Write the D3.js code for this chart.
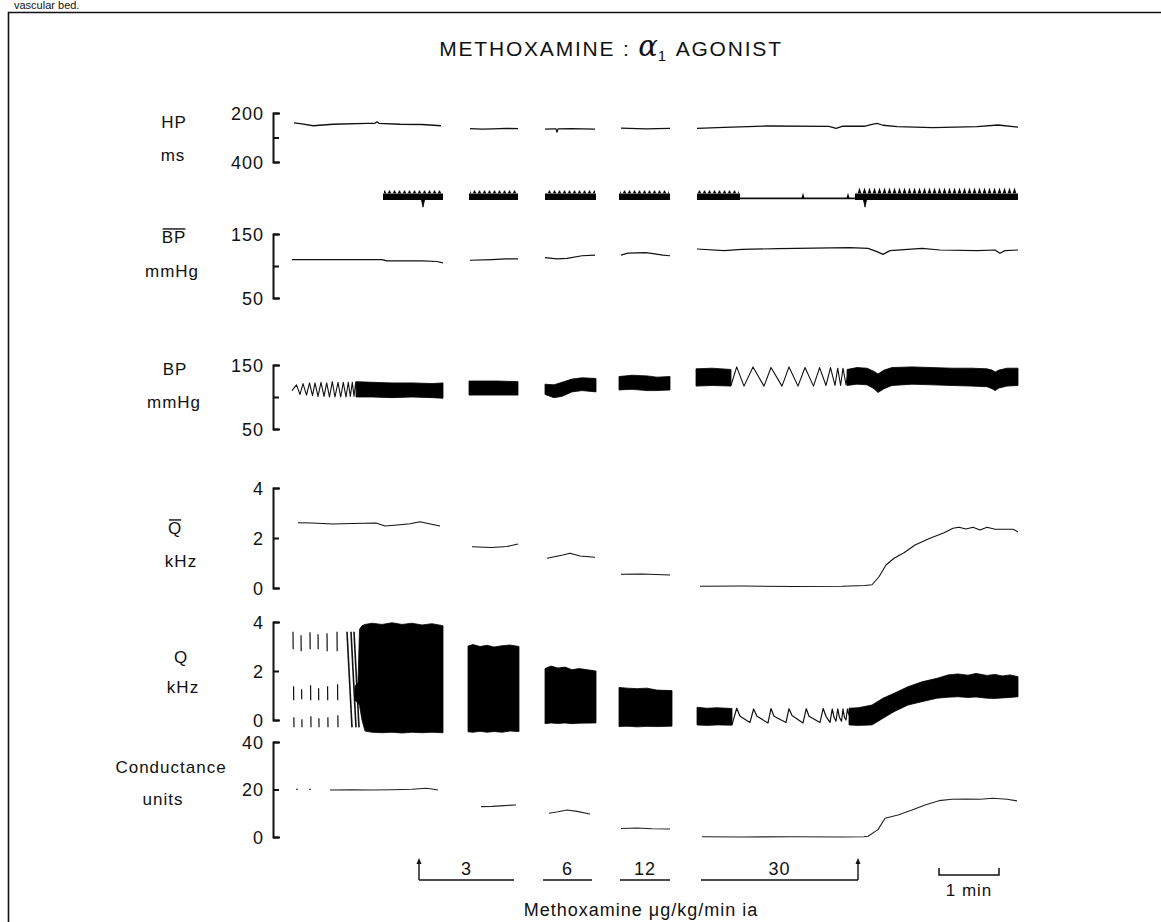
<!DOCTYPE html>
<html>
<head>
<meta charset="utf-8">
<script src="https://cdn.jsdelivr.net/npm/d3@7"></script>
<style>
  html, body { margin: 0; padding: 0; background: #fff; }
  svg { display: block; }
</style>
</head>
<body>
<svg id="chart" width="1161" height="922"></svg>
<script>
// ---------------------------------------------------------------
// Recording data. Time is in seconds from the start of the record;
// null entries mark the gaps between recorded segments.
// ---------------------------------------------------------------

// Heart period, ms
const hpTime = [2, 10, 21, 41, 75, 83, 85, 87, 108, 130, 149, null,
  178, 190, 201, 214, 226, null,
  253, 262, 264, 265, 266, 280, 290, 303, null,
  329, 345, 355, 365, 378, null,
  405, 432, 475, 537, 544, 551, 573, 580, 585, 591, 605, 641, 685, 706, 726];
const hpMs = [240, 244, 252, 246, 242, 242, 236, 242, 246, 247, 252, null,
  264, 266, 265, 263, 264, null,
  266, 265, 265, 278, 265, 264, 265, 266, null,
  262, 264, 265, 264, 263, null,
  263, 259, 253, 255, 263, 254, 254, 246, 242, 250, 256, 260, 256, 249, 258];

// Beat marker channel: dense bursts, a quiet stretch, single events
const beatBandStart = [91, 177, 253, 327, 405, 563];
const beatBandEnd   = [151, 226, 304, 378, 448, 726];
const beatToothBig  = [false, false, false, false, false, true];
const beatQuietStart = [448];
const beatQuietEnd   = [563];
const beatUpEvents   = [511, 556];
const beatDownEvents = [131, 573];

// Mean blood pressure, mmHg
const bpMeanTime = [0, 40, 90, 95, 130, 145, 151, null,
  178, 200, 213, 226, null,
  253, 265, 275, 290, 303, null,
  329, 336, 354, 371, 378, null,
  405, 432, 450, 486, 558, 576, 585, 591, 598, 630, 648, 685, 703, 708, 713, 726];
const bpMeanValue = [110, 110, 110, 108, 108, 107, 105, null,
  109, 110, 111, 111, null,
  113, 111, 112, 116, 117, null,
  117, 120, 121, 117, 116, null,
  126.6, 124, 126, 127, 128.6, 127.6, 122.4, 118.2, 124, 127.6, 125, 124, 125, 119.8, 124, 125];

// Pulsatile blood pressure at fast chart speed (single waves), mmHg
const bpWaveTime = [0, 4.5, 8, 11, 14.5, 17.5, 20.5, 23, 26, 29, 32, 34.7, 37.5, 40.3, 43, 46,
  48.7, 51.3, 54, 56.3, 58.3, 60.3, 62, 63.7, 65, null,
  439, 444.7, 452, 461, 472, 479, 490, 497, 506, 513, 521.5, 527.6, 534, 538.5, 543,
  545.7, 548.6, 551, 554, 556];
const bpWaveValue = [110, 119, 104, 121, 103, 122, 102, 122, 101, 123, 101, 122, 100, 124, 100, 123,
  100, 123, 100, 123, 101, 123, 101, 123, 101, null,
  118, 147, 117, 147, 117, 146, 117, 147, 117, 146, 117, 146, 118, 146, 118,
  145, 118, 145, 119, 140];

// Pulsatile blood pressure at slow chart speed: systolic / diastolic envelope, mmHg
const bpBandTime = [64, 80, 100, 120, 140, 151, null,
  177, 190, 205, 226, null,
  253, 262, 270, 280, 290, 304, null,
  327, 340, 355, 365, 378, null,
  404, 420, 439, null,
  555, 565, 575, 582, 586, 592, 600, 620, 640, 660, 680, 695, 700, 703, 707, 715, 726];
const bpSystolic = [124, 123, 122, 122, 121, 122, null,
  125, 125, 125, 124, null,
  120, 119, 123, 128, 130, 129, null,
  132, 134, 133, 131, 132, null,
  144, 145, 143, null,
  143, 146, 145, 140, 136, 142, 146, 147, 146, 145, 145, 144, 142, 139, 142, 145, 145];
const bpDiastolic = [100, 100, 99, 100, 99, 98, null,
  103, 103, 103, 103, null,
  104, 99, 101, 108, 110, 108, null,
  111, 112, 110, 110, 111, null,
  117, 118, 117, null,
  118, 120, 119, 113, 107, 113, 118, 120, 119, 118, 117, 116, 113, 110, 114, 117, 118];

// Mean flow, kHz
const qMeanTime = [6, 20, 41, 60, 84, 93, 105, 118, 128, 136, 148, null,
  180, 200, 215, 226, null,
  255, 271, 278, 288, 303, null,
  329, 350, 378, null,
  408, 450, 500, 550, 573, 580, 587, 594, 602, 612, 623, 638, 652, 661, 667, 674, 681, 688, 695, 703, 721, 726];
const qMeanValue = [2.61, 2.6, 2.56, 2.58, 2.6, 2.48, 2.52, 2.57, 2.65, 2.58, 2.48, null,
  1.65, 1.62, 1.66, 1.76, null,
  1.19, 1.32, 1.39, 1.28, 1.23, null,
  0.55, 0.56, 0.52, null,
  0.07, 0.08, 0.06, 0.07, 0.1, 0.13, 0.45, 0.92, 1.19, 1.41, 1.72, 1.99, 2.21, 2.39, 2.43, 2.36, 2.43, 2.32, 2.43, 2.35, 2.35, 2.25];

// Phasic flow: single beats at fast chart speed, kHz
const qBeatTime = [1, 9, 18, 26, 35, 45, 55, 59, 62];
const qBeatLow = -0.3;
const qBeatHigh = 3.6;
const qWaveTime = [440, 444.7, 448, 458, 461.6, 465, 476, 479, 482, 494, 497, 500, 511, 514.3, 517,
  528, 531.2, 534, 538, 540.3, 542, 544, 545.7, 547.5, 549.5, 551, 552.5, 554, 555.4, 557];
const qWaveValue = [-0.2, 0.48, 0.15, -0.1, 0.45, 0.15, -0.12, 0.47, 0.15, -0.1, 0.46, 0.18, -0.12, 0.46, 0.15,
  -0.1, 0.47, 0.15, -0.1, 0.45, 0.12, -0.05, 0.45, 0.1, -0.05, 0.45, 0.1, 0, 0.45, 0.2];

// Phasic flow envelope at slow chart speed, kHz
const qBandTime = [63, 66, 67.5, 70, 73, 80, 90, 100, 110, 120, 130, 140, 151, null,
  176, 181, 188, 195, 202, 210, 218, 227, null,
  253, 259, 266, 273, 280, 287, 304, null,
  327, 335, 345, 355, 365, 380, null,
  405, 415, 425, 440, null,
  557, 566, 580, 591, 602, 616, 630, 645, 656, 666, 676, 684, 695, 703, 710, 718, 726];
const qTop = [1.4, 1.5, 3.7, 3.85, 3.9, 3.95, 3.9, 3.97, 3.9, 3.95, 3.88, 3.93, 3.85, null,
  3.02, 3.08, 3.0, 3.05, 2.98, 3.03, 3.06, 3.0, null,
  2.1, 2.2, 2.12, 2.16, 2.05, 2.1, 2.0, null,
  1.33, 1.3, 1.28, 1.3, 1.22, 1.2, null,
  0.52, 0.48, 0.5, 0.47, null,
  0.48, 0.5, 0.61, 0.89, 1.09, 1.36, 1.56, 1.7, 1.84, 1.88, 1.83, 1.9, 1.82, 1.86, 1.8, 1.84, 1.77];
const qBottom = [0.8, 0.7, 0.6, 0.0, -0.45, -0.5, -0.52, -0.5, -0.53, -0.5, -0.52, -0.5, -0.52, null,
  -0.48, -0.5, -0.46, -0.5, -0.47, -0.5, -0.45, -0.47, null,
  -0.15, -0.12, -0.14, -0.12, -0.15, -0.13, -0.12, null,
  -0.27, -0.25, -0.28, -0.26, -0.27, -0.25, null,
  -0.2, -0.22, -0.2, -0.21, null,
  -0.2, -0.22, -0.2, 0.07, 0.34, 0.61, 0.75, 0.89, 0.93, 0.95, 0.92, 0.94, 0.89, 0.88, 0.9, 0.92, 0.95];

// Vascular conductance, units
const condTime = [4, 6, null, 17, 19, null, 38, 60, 80, 100, 120, 134, 140, 146, null,
  189, 200, 212, 224, null,
  257, 266, 275, 285, 298, null,
  329, 345, 360, 378, null,
  410, 450, 500, 550, 572, 576, 586, 593, 606, 620, 633, 647, 660, 674, 688, 701, 715, 725];
const condValue = [20.1, 20.1, null, 20.1, 20.1, null, 19.8, 19.9, 19.8, 19.9, 20.1, 20.5, 20.2, 19.8, null,
  12.8, 12.9, 13.2, 13.5, null,
  10.0, 10.6, 11.4, 10.8, 9.7, null,
  3.6, 3.8, 3.5, 3.4, null,
  0.1, 0.0, 0.1, 0.0, 0.1, 0.3, 3.1, 7.9, 9.3, 11.4, 13.5, 15.3, 15.9, 16.0, 15.9, 16.3, 15.9, 15.2];

// Infusion periods (μg/kg/min) and time calibration
const doseLabels = ["3", "6", "12", "30"];
const doseStart = [127, 251, 328, 409];
const doseEnd = [222, 300, 378, 566];
const infusionOn = 127;
const infusionOff = 566;
const minuteBar = [647, 707];

// Axis ticks
const hpTicks = [200, 300, 400], hpTickLabels = ["200", "", "400"];
const bpTicks = [150, 100, 50], bpTickLabels = ["150", "", "50"];
const qTicks = [4, 2, 0], qTickLabels = ["4", "2", "0"];
const condTicks = [40, 20, 0], condTickLabels = ["40", "20", "0"];

// ---------------------------------------------------------------
// Layout and scales
// ---------------------------------------------------------------
const FONT = '"Liberation Sans", Arial, Helvetica, sans-serif';
const INK = "#111";
const svg = d3.select("#chart");

const x = d3.scaleLinear().domain([0, 730]).range([292, 1022]);
const axisX = 273;

const yHP   = d3.scaleLinear().domain([200, 400]).range([113, 162]);
const yBeat = d3.scaleLinear().domain([0, 1]).range([200, 193.5]);
const yBPm  = d3.scaleLinear().domain([50, 150]).range([298, 234]);
const yBP   = d3.scaleLinear().domain([50, 150]).range([429, 365]);
const yQm   = d3.scaleLinear().domain([0, 4]).range([588, 488]);
const yQ    = d3.scaleLinear().domain([0, 4]).range([720, 622]);
const yC    = d3.scaleLinear().domain([0, 40]).range([837, 742]);

const zip = (t, v) => t.map((d, i) => ({ t: d, v: v[i] }));
const zip3 = (t, hi, lo) => t.map((d, i) => ({ t: d, hi: hi[i], lo: lo[i] }));
const lineGen = ys => d3.line()
  .defined(d => d.t != null && d.v != null)
  .x(d => x(d.t)).y(d => ys(d.v));
const areaGen = ys => d3.area()
  .defined(d => d.t != null && d.hi != null)
  .x(d => x(d.t)).y0(d => ys(d.lo)).y1(d => ys(d.hi));

function trace(ys, t, v, width, color) {
  svg.append("path")
    .attr("d", lineGen(ys)(zip(t, v)))
    .attr("fill", "none")
    .attr("stroke", color || INK)
    .attr("stroke-width", width || 1.1)
    .attr("stroke-linejoin", "round");
}
function band(ys, t, hi, lo) {
  svg.append("path")
    .attr("d", areaGen(ys)(zip3(t, hi, lo)))
    .attr("fill", "#000")
    .attr("stroke", "#000")
    .attr("stroke-width", 0.8);
}

// ---------------------------------------------------------------
// Frame and headings
// ---------------------------------------------------------------
svg.append("text").attr("x", 14).attr("y", 9)
  .attr("font-family", FONT).attr("font-size", 11).attr("fill", INK)
  .text("vascular bed.");

svg.append("path").attr("d", "M1161,12.5H8.5V922")
  .attr("fill", "none").attr("stroke", INK).attr("stroke-width", 1.6);

const title = svg.append("text")
  .attr("x", 611).attr("y", 56).attr("text-anchor", "middle")
  .attr("font-family", FONT).attr("font-size", 21).attr("letter-spacing", 1.8)
  .attr("fill", INK);
title.append("tspan").text("METHOXAMINE :  ");
title.append("tspan").attr("font-family", '"DejaVu Serif", serif').attr("font-style", "italic")
  .attr("font-size", 29).attr("letter-spacing", 0).text("α");
title.append("tspan").attr("font-size", 15).attr("dy", 5).text("1");
title.append("tspan").attr("dy", -5).text("  AGONIST");

// ---------------------------------------------------------------
// Channel labels and axes
// ---------------------------------------------------------------
function label(txt, cx, cy, over) {
  const t = svg.append("text")
    .attr("x", cx).attr("y", cy).attr("dy", "0.35em")
    .attr("text-anchor", "middle")
    .attr("font-family", FONT).attr("font-size", 17).attr("letter-spacing", 1)
    .attr("fill", INK).text(txt);
  if (over) {
    const b = t.node().getBBox();
    svg.append("line")
      .attr("x1", b.x + 1).attr("x2", b.x + b.width - 1)
      .attr("y1", b.y + 1).attr("y2", b.y + 1)
      .attr("stroke", INK).attr("stroke-width", 1.4);
  }
}
function axis(ys, ticks, labels) {
  const g = svg.append("g").attr("transform", `translate(${axisX},0)`)
    .call(d3.axisRight(ys).tickValues(ticks).tickSize(6).tickSizeOuter(7)
      .tickFormat((d, i) => labels[i]));
  g.select(".domain").attr("stroke", INK).attr("stroke-width", 2);
  g.selectAll(".tick line").attr("stroke", INK).attr("stroke-width", 2);
  g.selectAll(".tick text")
    .attr("x", -9).attr("dy", "0.36em").attr("text-anchor", "end")
    .attr("font-family", FONT).attr("font-size", 18).attr("letter-spacing", 1)
    .attr("fill", INK);
}

label("HP", 174, 122);
label("ms", 173, 155);
axis(yHP, hpTicks, hpTickLabels);

label("BP", 174, 237, true);
label("mmHg", 172, 271);
axis(yBPm, bpTicks, bpTickLabels);

label("BP", 175, 369);
label("mmHg", 174, 402);
axis(yBP, bpTicks, bpTickLabels);

label("Q", 175, 528, true);
label("kHz", 181, 561);
axis(yQm, qTicks, qTickLabels);

label("Q", 181, 657);
label("kHz", 183, 687);
axis(yQ, qTicks, qTickLabels);

label("Conductance", 171, 767);
label("units", 163, 799);
axis(yC, condTicks, condTickLabels);

// ---------------------------------------------------------------
// Traces
// ---------------------------------------------------------------
// Heart period
trace(yHP, hpTime, hpMs, 1.3);

// Beat marker channel: solid bursts topped with small teeth
const defs = svg.append("defs");
[["teethSmall", 3.5], ["teethBig", 6]].forEach(([id, h]) => {
  const p = defs.append("pattern").attr("id", id)
    .attr("patternUnits", "userSpaceOnUse")
    .attr("width", 5).attr("height", 20)
    .attr("x", x(0)).attr("y", yBeat(1) - 20);
  p.append("path").attr("d", `M0.6,20L2.5,${20 - h}L4.4,20Z`).attr("fill", "#000");
});
beatBandStart.forEach((s, i) => {
  const e = beatBandEnd[i];
  svg.append("rect")
    .attr("x", x(s)).attr("width", x(e) - x(s))
    .attr("y", yBeat(1)).attr("height", yBeat(0) - yBeat(1))
    .attr("fill", "#000");
  const h = beatToothBig[i] ? 6 : 3.5;
  svg.append("rect")
    .attr("x", x(s) + 1).attr("width", x(e) - x(s) - 2)
    .attr("y", yBeat(1) - h).attr("height", h)
    .attr("fill", `url(#${beatToothBig[i] ? "teethBig" : "teethSmall"})`);
});
beatQuietStart.forEach((s, i) => {
  svg.append("line")
    .attr("x1", x(s)).attr("x2", x(beatQuietEnd[i]))
    .attr("y1", yBeat(0.25)).attr("y2", yBeat(0.25))
    .attr("stroke", INK).attr("stroke-width", 1.6);
});
beatUpEvents.forEach(t => {
  svg.append("path")
    .attr("d", `M${x(t) - 1.6},${yBeat(0.25)}L${x(t)},${yBeat(1.1)}L${x(t) + 1.6},${yBeat(0.25)}Z`)
    .attr("fill", "#000");
});
beatDownEvents.forEach(t => {
  svg.append("path")
    .attr("d", `M${x(t) - 1.5},${yBeat(0)}L${x(t)},${yBeat(-1.1)}L${x(t) + 1.5},${yBeat(0)}Z`)
    .attr("fill", "#000").attr("stroke", "#000").attr("stroke-width", 0.8);
});

// Mean blood pressure
trace(yBPm, bpMeanTime, bpMeanValue, 1.2);

// Pulsatile blood pressure
band(yBP, bpBandTime, bpSystolic, bpDiastolic);
trace(yBP, bpWaveTime, bpWaveValue, 1.1);

// Mean flow
trace(yQm, qMeanTime, qMeanValue, 1.1);

// Phasic flow: fast upstrokes leave only broken ink
const beatDash = ["10,17,14,37,18", "8,20,10,38,16", "11,16,15,36,17", "9,18,12,39,15", "10,17,14,35,18", "12,15,16,33,20"];
qBeatTime.forEach((t, i) => {
  const late = t > 50;
  svg.append("line")
    .attr("x1", x(t) + (late ? 5 : 1)).attr("y1", yQ(qBeatLow))
    .attr("x2", x(t)).attr("y2", yQ(qBeatHigh))
    .attr("stroke", INK).attr("stroke-width", late ? 1.6 : 1.2)
    .attr("stroke-dasharray", late ? null : beatDash[i % beatDash.length]);
});
band(yQ, qBandTime, qTop, qBottom);
trace(yQ, qWaveTime, qWaveValue, 1.2);

// Conductance
trace(yC, condTime, condValue, 1.1, "#222");

// ---------------------------------------------------------------
// Infusion markers and time calibration
// ---------------------------------------------------------------
const yBracket = 880, yArrowTop = 858, yDose = 869;
doseLabels.forEach((lab, i) => {
  svg.append("line")
    .attr("x1", x(doseStart[i])).attr("x2", x(doseEnd[i]))
    .attr("y1", yBracket).attr("y2", yBracket)
    .attr("stroke", INK).attr("stroke-width", 1.4);
  svg.append("text")
    .attr("x", x((doseStart[i] + doseEnd[i]) / 2)).attr("y", yDose).attr("dy", "0.35em")
    .attr("text-anchor", "middle")
    .attr("font-family", FONT).attr("font-size", 18).attr("letter-spacing", 1)
    .attr("fill", INK).text(lab);
});
[infusionOn, infusionOff].forEach(t => {
  svg.append("line")
    .attr("x1", x(t)).attr("x2", x(t)).attr("y1", yBracket).attr("y2", yArrowTop + 3)
    .attr("stroke", INK).attr("stroke-width", 1.4);
  svg.append("path")
    .attr("d", `M${x(t) - 2.5},${yArrowTop + 6}L${x(t)},${yArrowTop}L${x(t) + 2.5},${yArrowTop + 6}Z`)
    .attr("fill", INK);
});

const yBar = 875;
svg.append("path")
  .attr("d", `M${x(minuteBar[0])},${yBar - 7}V${yBar}H${x(minuteBar[1])}V${yBar - 7}`)
  .attr("fill", "none").attr("stroke", INK).attr("stroke-width", 1.5);
svg.append("text")
  .attr("x", x((minuteBar[0] + minuteBar[1]) / 2)).attr("y", 890).attr("dy", "0.35em")
  .attr("text-anchor", "middle")
  .attr("font-family", FONT).attr("font-size", 17).attr("letter-spacing", 1)
  .attr("fill", INK).text("1 min");

svg.append("text")
  .attr("x", 641).attr("y", 910).attr("dy", "0.35em")
  .attr("text-anchor", "middle")
  .attr("font-family", FONT).attr("font-size", 18).attr("letter-spacing", 1)
  .attr("fill", INK).text("Methoxamine μg/kg/min  ia");
</script>
</body>
</html>
